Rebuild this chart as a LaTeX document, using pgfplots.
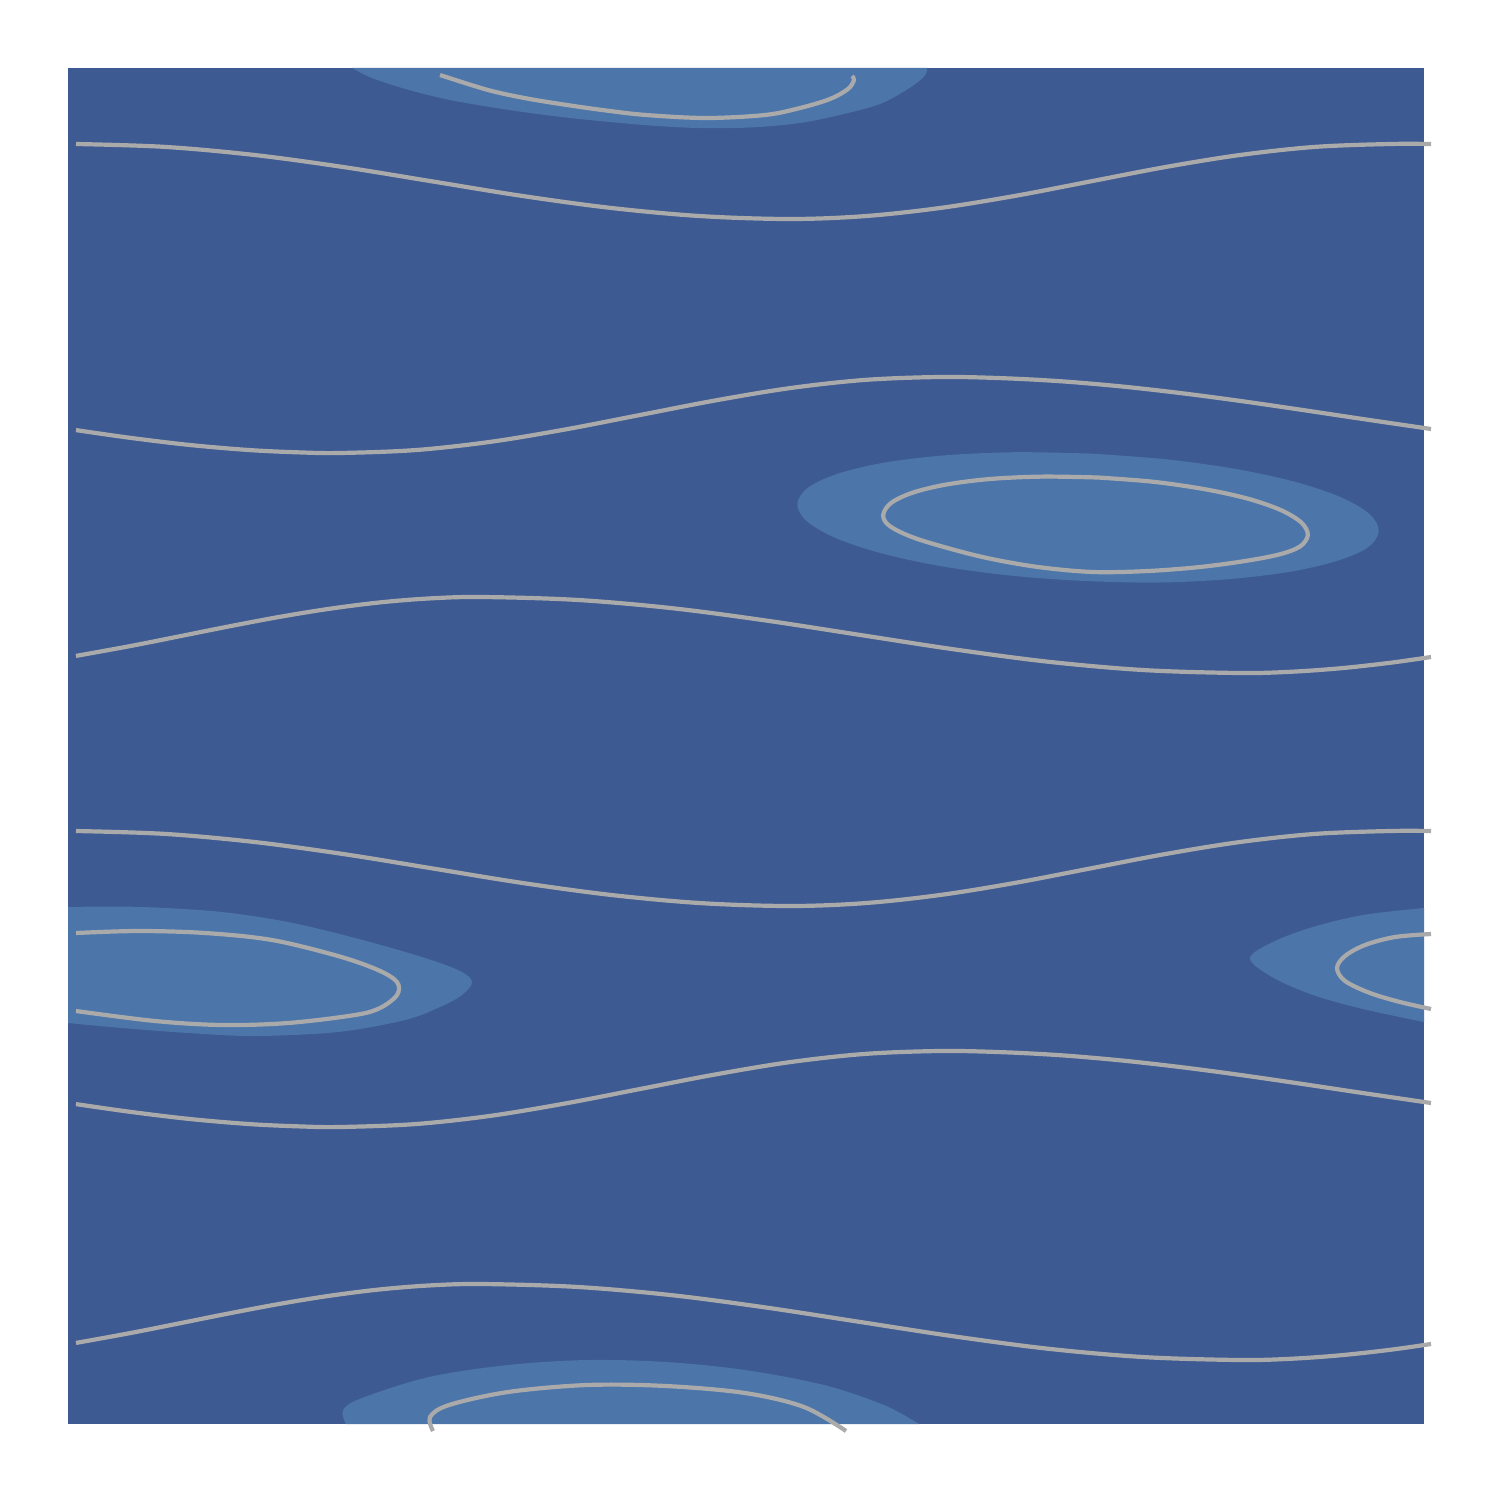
\documentclass[border=0pt]{standalone}
\usepackage{pgfplots}
\pgfplotsset{compat=1.18}
\definecolor{bgblue}{HTML}{3E5A93}
\definecolor{hiblue}{HTML}{4C75AA}
\definecolor{cline}{HTML}{AAAAAA}
\begin{document}
\begin{tikzpicture}
\begin{axis}[
  scale only axis, width=452pt, height=452pt,
  xmin=68, xmax=1424, ymin=68, ymax=1424, y dir=reverse,
  hide axis, clip=false,
  cont/.style={cline, line width=1.4pt, smooth, tension=0.55},
  reg/.style={fill=hiblue, draw=none, smooth, tension=0.55},
]
\path (axis cs:0,0) rectangle (axis cs:1500,1500);
% background
\addplot[fill=bgblue, draw=none] coordinates {(68,68) (1424,68) (1424,1424) (68,1424)} --cycle;
% filled regions
\addplot[reg] coordinates {(352,68) (372,78) (409,90) (450,100) (490,107) (530,113) (570,118) (610,122) (650,125.5) (698,128) (750,127.5) (800,123) (844,114) (880,104) (903,92) (918,82) (926,74) (927,68)} --cycle;
\addplot[reg] coordinates {(1091.0,453.6) (1166.1,459.3) (1235.9,469.0) (1295.7,482.0) (1341.2,497.4) (1369.6,514.2) (1378.7,531.2) (1368.0,547.3) (1338.2,560.5) (1291.5,571.5) (1230.7,579.0) (1160.3,582.5) (1085.0,581.0) (1009.9,575.5) (940.1,566.0) (880.3,553.0) (834.8,537.6) (806.4,520.8) (797.3,503.8) (808.0,487.7) (837.8,473.7) (884.5,462.6) (945.3,455.3) (1015.7,452.2) (1091.0,453.6)} --cycle;
\addplot[reg] coordinates {(68,907) (110,906.5) (155,907.5) (222,912) (288,922) (355,938) (422,957) (460,971) (472,982) (462,995) (440,1007) (405,1020) (338,1032) (255,1036) (188,1033) (122,1028) (68,1023)} --cycle;
\addplot[reg] coordinates {(1424,908) (1363,915) (1313,927) (1275,941) (1250,958) (1272,977) (1313,995) (1363,1009) (1424,1022)} --cycle;
\addplot[reg] coordinates {(346,1424) (343,1410) (362,1398) (429,1377) (508,1365) (587,1360) (666,1362) (745,1370) (824,1385) (884,1405) (919,1424)} --cycle;
% contour lines (closed / clipped loops)
\addplot[cont] coordinates {(440,75) (488,90) (527,98.5) (567,105) (606,110.5) (646,115) (706,118) (765,115) (800,108) (830,99) (848,89) (854,80) (852,76)};
\addplot[cont] coordinates {(1097.7,477.5) (1152.6,481.7) (1203.6,489.0) (1247.2,498.5) (1280.4,509.9) (1301.2,522.4) (1307.8,535.0) (1300,546.5) (1279,554.5) (1245,561) (1200,567) (1148,571) (1093,572) (1038,567) (987,558) (944,547) (910.6,536.5) (889,525.5) (883.2,515) (891,503) (912.8,492.6) (947,484.4) (991.2,478.9) (1042.8,476.6) (1097.7,477.5)};
\addplot[cont] coordinates {(76,933) (138,931) (205,933) (272,940) (338,956) (378,970) (397,982) (397,995) (380,1008) (355,1015) (288,1023) (222,1025) (155,1021) (76,1011)};
\addplot[cont] coordinates {(1431,934) (1395,937) (1365,945) (1345,956) (1337,968) (1345,981) (1370,993) (1400,1002) (1431,1009)};
\addplot[cont] coordinates {(433,1431) (430,1417) (449,1405) (508,1392) (587,1385) (666,1386) (745,1393) (804,1407) (846,1431)};
% wavy contour lines
\addplot[cont] coordinates {(76,144) (165,146.9) (254.5,155) (343.75,167.1) (433,181.5) (522,195.9) (611.5,208) (700.75,216.1) (790,219) (865,216.1) (940,208) (1015,195.9) (1090,181.5) (1165,167.1) (1240,155) (1315,146.9) (1390,144) (1431,144)};
\addplot[cont] coordinates {(76,430.1) (130,437.8) (190,445.0) (250,450.1) (300,452.4) (340,453) (415,450.1) (490,441.9) (565,429.5) (640,415) (715,400.5) (790,388.1) (865,379.9) (940,377) (1000,378.1) (1060,381.2) (1120,386.3) (1180,393.0) (1240,400.9) (1300,409.6) (1360,418.6) (1431,429.0)};
\addplot[cont] coordinates {(76,655.9) (130,646.1) (180,636.2) (230,626.2) (280,616.8) (330,608.7) (380,602.4) (430,598.4) (482,597) (576.6,599.9) (671.25,608.1) (765.9,620.5) (860.5,635) (955.1,649.5) (1049.75,661.9) (1144.4,670.1) (1239,673) (1290,671.8) (1340,668.3) (1390,662.8) (1431,657)};
\addplot[cont] coordinates {(76,831) (165,833.9) (254.5,842) (343.75,854.1) (433,868.5) (522,882.9) (611.5,895) (700.75,903.1) (790,906) (865,903.1) (940,895) (1015,882.9) (1090,868.5) (1165,854.1) (1240,842) (1315,833.9) (1390,831) (1431,831)};
\addplot[cont] coordinates {(76,1104.1) (130,1111.8) (190,1119) (250,1124.1) (300,1126.4) (340,1127) (415,1124.1) (490,1115.9) (565,1103.5) (640,1089) (715,1074.5) (790,1062.1) (865,1053.9) (940,1051) (1000,1052.1) (1060,1055.2) (1120,1060.3) (1180,1067) (1240,1074.9) (1300,1083.6) (1360,1092.6) (1431,1103)};
\addplot[cont] coordinates {(76,1342.9) (130,1333.1) (180,1323.2) (230,1313.2) (280,1303.8) (330,1295.7) (380,1289.4) (430,1285.4) (482,1284) (576.6,1286.9) (671.25,1295.1) (765.9,1307.5) (860.5,1322) (955.1,1336.5) (1049.75,1348.9) (1144.4,1357.1) (1239,1360) (1290,1358.8) (1340,1355.3) (1390,1349.8) (1431,1344)};
\end{axis}
\end{tikzpicture}
\end{document}
